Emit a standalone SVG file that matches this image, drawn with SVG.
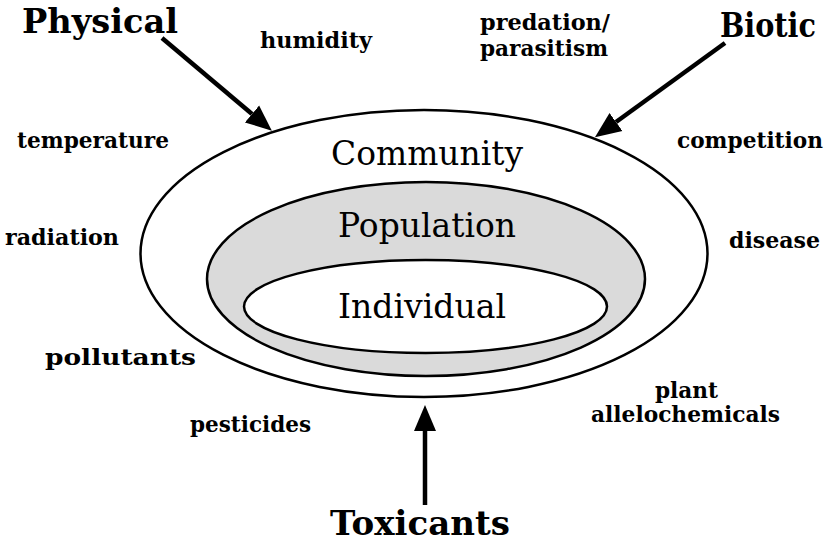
<svg xmlns="http://www.w3.org/2000/svg" width="833" height="545" viewBox="0 0 833 545">
<style>
.ell{stroke:#000;stroke-width:2.5}
.lvl{font-family:"DejaVu Serif","Liberation Serif",serif;font-size:34px;fill:#000;text-anchor:middle}
.big{font-family:"DejaVu Serif","Liberation Serif",serif;font-size:34px;font-weight:bold;fill:#000}
.sm{font-family:"DejaVu Serif","Liberation Serif",serif;font-size:22px;font-weight:bold;fill:#000}
.arr{stroke:#000;stroke-width:4.5;fill:none;marker-end:url(#ah)}
</style>
<defs>
<marker id="ah" markerUnits="userSpaceOnUse" markerWidth="30" markerHeight="26" refX="0" refY="11" orient="auto" viewBox="0 0 30 22">
<path d="M0,0 L26,11 L0,22 z" fill="#000"/>
</marker>
</defs>
<rect width="833" height="545" fill="#fff"/>
<g id="community">
<ellipse class="ell" cx="424" cy="253.5" rx="283.5" ry="143.5" fill="#fff"/>
<text class="lvl" x="427" y="165" textLength="192" lengthAdjust="spacingAndGlyphs">Community</text>
</g>
<g id="population">
<ellipse class="ell" cx="426" cy="279" rx="219" ry="97" fill="#dadada"/>
<text class="lvl" x="427" y="237" textLength="178" lengthAdjust="spacingAndGlyphs">Population</text>
</g>
<g id="individual">
<ellipse class="ell" cx="425.5" cy="306.5" rx="181.5" ry="46.5" fill="#fff"/>
<text class="lvl" x="422" y="318" textLength="168" lengthAdjust="spacingAndGlyphs">Individual</text>
</g>
<g id="physical"><text class="big" x="22" y="33" textLength="156" lengthAdjust="spacingAndGlyphs">Physical</text></g>
<g id="biotic"><text class="big" x="720" y="37" textLength="96" lengthAdjust="spacingAndGlyphs">Biotic</text></g>
<g id="toxicants"><text class="big" x="330" y="535" textLength="180" lengthAdjust="spacingAndGlyphs">Toxicants</text></g>
<g id="factors">
<text class="sm" x="260" y="48" textLength="112" lengthAdjust="spacingAndGlyphs">humidity</text>
<text class="sm" x="480" y="30" textLength="130" lengthAdjust="spacingAndGlyphs">predation/</text>
<text class="sm" x="480" y="56" textLength="128" lengthAdjust="spacingAndGlyphs">parasitism</text>
<text class="sm" x="17" y="148" textLength="152" lengthAdjust="spacingAndGlyphs">temperature</text>
<text class="sm" x="677" y="148" textLength="146" lengthAdjust="spacingAndGlyphs">competition</text>
<text class="sm" x="5" y="245" textLength="114" lengthAdjust="spacingAndGlyphs">radiation</text>
<text class="sm" x="729" y="248" textLength="91" lengthAdjust="spacingAndGlyphs">disease</text>
<text class="sm" x="45" y="365" textLength="151" lengthAdjust="spacingAndGlyphs">pollutants</text>
<text class="sm" x="655" y="398" textLength="63" lengthAdjust="spacingAndGlyphs">plant</text>
<text class="sm" x="591" y="422" textLength="189" lengthAdjust="spacingAndGlyphs">allelochemicals</text>
<text class="sm" x="190" y="432" textLength="121" lengthAdjust="spacingAndGlyphs">pesticides</text>
</g>
<g id="connectors">
<line class="arr" x1="162" y1="38" x2="252" y2="114"/>
<line class="arr" x1="725" y1="43" x2="616" y2="122"/>
<line class="arr" x1="425" y1="505" x2="425" y2="431"/>
</g>
</svg>
